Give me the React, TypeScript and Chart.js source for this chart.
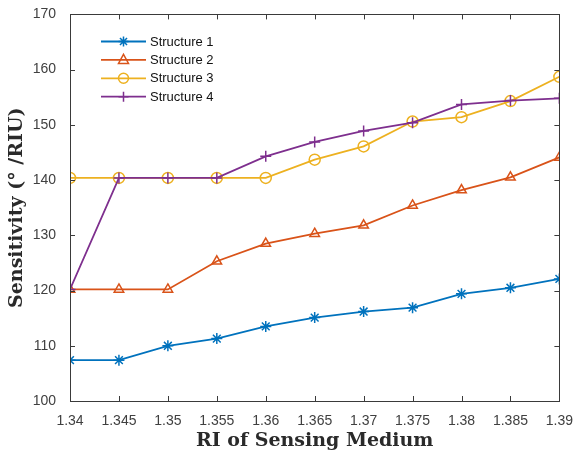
import React, { useEffect, useRef } from 'react';
import { Chart, registerables } from 'chart.js';

Chart.register(...registerables);

const riValues = [1.34, 1.345, 1.35, 1.355, 1.36, 1.365, 1.37, 1.375, 1.38, 1.385, 1.39];
const xTickLabels = ['1.34', '1.345', '1.35', '1.355', '1.36', '1.365', '1.37', '1.375', '1.38', '1.385', '1.39'];
const yTickValues = [100, 110, 120, 130, 140, 150, 160, 170];

const structure1 = [107.4, 107.4, 110.0, 111.3, 113.5, 115.1, 116.2, 116.9, 119.4, 120.5, 122.1];
const structure2 = [120.2, 120.2, 120.2, 125.3, 128.5, 130.3, 131.8, 135.4, 138.2, 140.5, 144.1];
const structure3 = [140.4, 140.4, 140.4, 140.4, 140.4, 143.7, 146.1, 150.6, 151.4, 154.3, 158.7];
const structure4 = [120.2, 140.4, 140.4, 140.4, 144.3, 146.9, 148.9, 150.4, 153.7, 154.4, 154.8];

const seriesNames = ['Structure 1', 'Structure 2', 'Structure 3', 'Structure 4'];
const seriesColors = ['#0072BD', '#D95319', '#EDB120', '#7E2F8E'];
const seriesMarkers = ['star', 'triangle', 'circle', 'cross'];
const seriesValues = [structure1, structure2, structure3, structure4];

const titleFont = '"DejaVu Serif", "Liberation Serif", serif';
const tickFont = '"Liberation Sans", Arial, sans-serif';

function drawMarker(ctx: CanvasRenderingContext2D, style: string, x: number, y: number, r: number) {
  ctx.beginPath();
  if (style === 'circle') {
    ctx.arc(x, y, r, 0, Math.PI * 2);
  } else if (style === 'triangle') {
    ctx.moveTo(x, y - r * 1.1);
    ctx.lineTo(x + r, y + r * 0.7);
    ctx.lineTo(x - r, y + r * 0.7);
    ctx.closePath();
  } else if (style === 'cross') {
    ctx.moveTo(x - r, y);
    ctx.lineTo(x + r, y);
    ctx.moveTo(x, y - r);
    ctx.lineTo(x, y + r);
  } else if (style === 'star') {
    ctx.moveTo(x - r, y);
    ctx.lineTo(x + r, y);
    ctx.moveTo(x, y - r);
    ctx.lineTo(x, y + r);
    const d = r * 0.707;
    ctx.moveTo(x - d, y - d);
    ctx.lineTo(x + d, y + d);
    ctx.moveTo(x - d, y + d);
    ctx.lineTo(x + d, y - d);
  }
  ctx.stroke();
}

const boxPlugin = {
  id: 'matlabBox',
  afterDatasetsDraw(chart: any) {
    const { ctx, chartArea } = chart;
    const xs = chart.scales.x;
    const ys = chart.scales.y;
    ctx.save();
    ctx.strokeStyle = '#3a3a3a';
    ctx.lineWidth = 1;
    ctx.beginPath();
    const tl = 5;
    riValues.forEach((v) => {
      const px = Math.round(xs.getPixelForValue(v)) + 0.5;
      ctx.moveTo(px, chartArea.bottom);
      ctx.lineTo(px, chartArea.bottom - tl);
      ctx.moveTo(px, chartArea.top);
      ctx.lineTo(px, chartArea.top + tl);
    });
    yTickValues.forEach((v) => {
      const py = Math.round(ys.getPixelForValue(v)) + 0.5;
      ctx.moveTo(chartArea.left, py);
      ctx.lineTo(chartArea.left + tl, py);
      ctx.moveTo(chartArea.right, py);
      ctx.lineTo(chartArea.right - tl, py);
    });
    ctx.stroke();
    ctx.strokeRect(Math.round(chartArea.left) + 0.5, Math.round(chartArea.top) + 0.5,
      Math.round(chartArea.right - chartArea.left), Math.round(chartArea.bottom - chartArea.top));
    ctx.restore();
  },
  afterDraw(chart: any) {
    const { ctx } = chart;
    ctx.save();
    ctx.fillStyle = '#ffffff';
    ctx.fillRect(92, 31, 136, 76);
    ctx.font = '13px ' + tickFont;
    ctx.textBaseline = 'middle';
    ctx.textAlign = 'left';
    seriesNames.forEach((name, i) => {
      const y = 41.5 + i * 18.4;
      ctx.strokeStyle = seriesColors[i];
      ctx.lineWidth = 1.8;
      ctx.beginPath();
      ctx.moveTo(101, y);
      ctx.lineTo(146, y);
      ctx.stroke();
      ctx.lineWidth = 1.5;
      drawMarker(ctx, seriesMarkers[i], 123.5, y, 5);
      ctx.fillStyle = '#111111';
      ctx.fillText(name, 150, y + 0.5);
    });
    ctx.restore();
  },
};

export default function App() {
  const canvasRef = useRef<HTMLCanvasElement | null>(null);

  useEffect(() => {
    document.body.style.margin = '0';
    const canvas = canvasRef.current;
    if (!canvas) return;
    const datasets = seriesValues.map((vals, i) => ({
      label: seriesNames[i],
      data: vals.map((y, j) => ({ x: riValues[j], y })),
      borderColor: seriesColors[i],
      backgroundColor: 'rgba(0,0,0,0)',
      pointBorderColor: seriesColors[i],
      pointBackgroundColor: 'rgba(0,0,0,0)',
      pointStyle: seriesMarkers[i] as any,
      pointRadius: 5.5,
      pointBorderWidth: 1.5,
      borderWidth: 1.8,
      tension: 0,
      fill: false,
      order: 4 - i,
    }));
    const chart = new Chart(canvas, {
      type: 'line',
      data: { datasets },
      plugins: [boxPlugin],
      options: {
        animation: false,
        responsive: false,
        maintainAspectRatio: false,
        layout: { padding: { top: 13, right: 15, left: 0, bottom: 0 } },
        plugins: {
          legend: { display: false },
          tooltip: { enabled: false },
        },
        scales: {
          x: {
            type: 'linear',
            min: 1.34,
            max: 1.39,
            afterBuildTicks: (scale: any) => {
              scale.ticks = riValues.map((v) => ({ value: v }));
            },
            afterFit: (scale: any) => {
              scale.height = 56;
            },
            grid: { display: false },
            border: { display: false },
            ticks: {
              autoSkip: false,
              maxRotation: 0,
              padding: 4,
              color: '#404040',
              font: { family: tickFont, size: 14 },
              callback: (_v: any, i: number) => xTickLabels[i],
            },
            title: {
              display: true,
              text: 'RI of Sensing Medium',
              color: '#2a2a2a',
              font: { family: titleFont, size: 19, weight: 'bold', lineHeight: 1.2 },
              padding: { top: 0, bottom: 5 },
            },
          },
          y: {
            type: 'linear',
            min: 100,
            max: 170,
            afterBuildTicks: (scale: any) => {
              scale.ticks = yTickValues.map((v) => ({ value: v }));
            },
            afterFit: (scale: any) => {
              scale.width = 70;
            },
            grid: { display: false },
            border: { display: false },
            ticks: {
              padding: 6,
              color: '#404040',
              font: { family: tickFont, size: 14 },
            },
            title: {
              display: true,
              text: 'Sensitivity (° /RIU)',
              color: '#2a2a2a',
              font: { family: titleFont, size: 19, weight: 'bold', lineHeight: 1.2 },
              padding: { top: 6, bottom: 0 },
            },
          },
        },
      },
    });
    return () => chart.destroy();
  }, []);

  return (
    <div style={{ width: 577, height: 457 }}>
      <canvas ref={canvasRef} width={577} height={457} />
    </div>
  );
}
